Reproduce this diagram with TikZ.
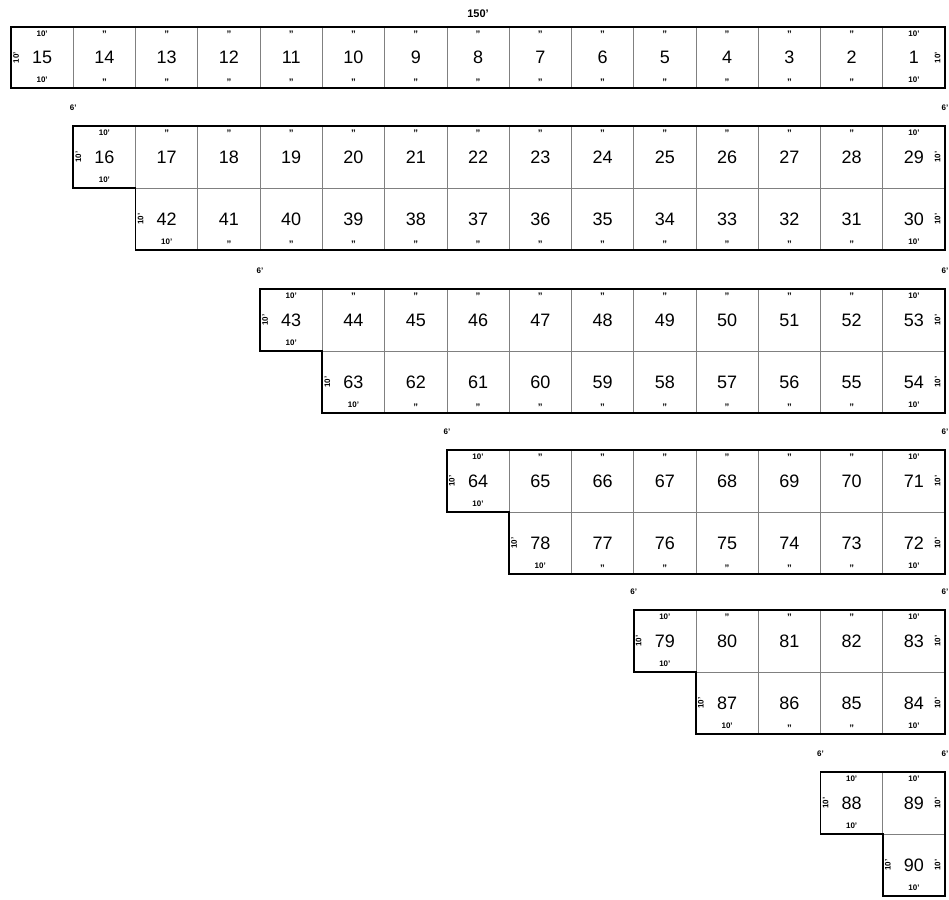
\documentclass[tikz,border=0pt]{standalone}
\usepackage{fontspec}
\setmainfont{Liberation Sans}
\begin{document}
\begin{tikzpicture}[x=1pt,y=-1pt,
  cell/.style={draw=black!50, line width=0.7pt, minimum width=62.27pt, minimum height=62pt, inner sep=0pt, outer sep=0pt, font=\fontsize{18}{18}\selectfont},
  toprow/.style={cell, minimum height=61pt},
  lbl/.style={font=\bfseries\fontsize{8}{8}\selectfont, inner sep=0pt},
  rlbl/.style={lbl, rotate=90},
  ditto/.style={font=\bfseries\fontsize{9.5}{9.5}\selectfont, inner sep=0pt},
  outline/.style={line width=1.8pt, line join=miter}]
\useasboundingbox (0,0) rectangle (949,899);
\def\W{62.27}
% title
\node[font=\bfseries\fontsize{11}{11}\selectfont, inner sep=0pt] (title) at (478,14) {150'};
% top row
\foreach \c in {0,...,14}{
  \pgfmathtruncatemacro\n{15-\c}
  \node[toprow] (c\n) at ({11+(\c+0.5)*\W},57.5) {\n};
  \ifnum\c=0
    \node[lbl] (t\n) at ([yshift=-6.5pt]c\n.north) {10'};
    \node[lbl] (b\n) at ([yshift=8pt]c\n.south) {10'};
    \node[rlbl] (l\n) at ([xshift=5pt]c\n.west) {10'};
  \else\ifnum\c=14
    \node[lbl] (t\n) at ([yshift=-6.5pt]c\n.north) {10'};
    \node[lbl] (b\n) at ([yshift=8pt]c\n.south) {10'};
    \node[rlbl] (r\n) at ([xshift=-7.5pt]c\n.east) {10'};
  \else
    \node[ditto] (t\n) at ([yshift=-7pt]c\n.north) {''};
    \node[ditto] (b\n) at ([yshift=6pt]c\n.south) {''};
  \fi\fi
}
\draw[outline] (c15.north west) rectangle (c1.south east);
% blocks
\foreach \s/\T/\f in {1/126/16, 4/289/43, 7/450/64, 10/610/79, 13/772/88}{
  \pgfmathtruncatemacro\last{\f+14-\s}
  \pgfmathtruncatemacro\sl{\s+1}
  \pgfmathtruncatemacro\lr{\last+1}
  \pgfmathtruncatemacro\lf{\last+14-\s}
  % upper row
  \foreach \c in {\s,...,14}{
    \pgfmathtruncatemacro\n{\f+\c-\s}
    \node[cell] (c\n) at ({11+(\c+0.5)*\W},{\T+31}) {\n};
    \ifnum\c=\s
      \node[lbl] (t\n) at ([yshift=-6.5pt]c\n.north) {10'};
      \node[lbl] (b\n) at ([yshift=8pt]c\n.south) {10'};
      \node[rlbl] (l\n) at ([xshift=5pt]c\n.west) {10'};
    \else\ifnum\c=14
      \node[lbl] (t\n) at ([yshift=-6.5pt]c\n.north) {10'};
      \node[rlbl] (r\n) at ([xshift=-7.5pt]c\n.east) {10'};
    \else
      \node[ditto] (t\n) at ([yshift=-7pt]c\n.north) {''};
    \fi\fi
  }
  % lower row
  \foreach \c in {\sl,...,14}{
    \pgfmathtruncatemacro\n{\last+15-\c}
    \node[cell] (c\n) at ({11+(\c+0.5)*\W},{\T+93}) {\n};
    \ifnum\c=\sl
      \node[rlbl] (l\n) at ([xshift=5pt]c\n.west) {10'};
      \node[lbl] (b\n) at ([yshift=8pt]c\n.south) {10'};
    \fi
    \ifnum\c=14
      \node[rlbl] (r\n) at ([xshift=-7.5pt]c\n.east) {10'};
      \ifnum\c=\sl\else
        \node[lbl] (b\n) at ([yshift=8pt]c\n.south) {10'};
      \fi
    \fi
    \ifnum\c>\sl \ifnum\c<14
      \node[ditto] (b\n) at ([yshift=6pt]c\n.south) {''};
    \fi\fi
  }
  \draw[outline] (c\f.north west) -- (c\last.north east) -- (c\lr.south east)
     -- (c\lf.south west) -- (c\lf.north west) -- (c\f.south west) -- cycle;
  \node[lbl] (sl\f) at ({11+\s*\W},{\T-18}) {6'};
  \node[lbl, anchor=east] (sr\f) at (948.5,{\T-18}) {6'};
}
\end{tikzpicture}
\end{document}
